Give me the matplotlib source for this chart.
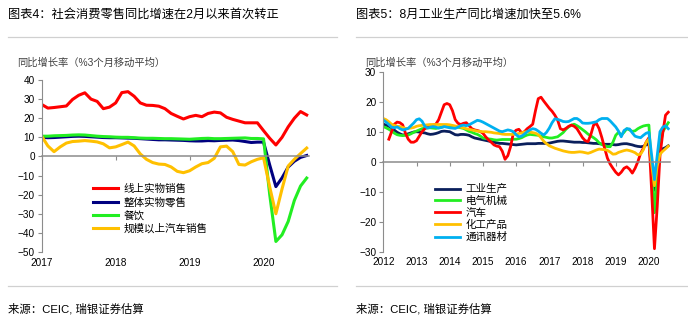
import numpy as np
import matplotlib
matplotlib.use('Agg')
import matplotlib.pyplot as plt
from matplotlib.lines import Line2D

plt.rcParams['font.family'] = ['Liberation Sans', 'Noto Sans CJK SC']

# ---- retail panel (3mma, yoy %), monthly from Jan 2017 ----
retail_start = 2017
retail_labels = ['线上实物销售', '整体实物零售', '餐饮', '规模以上汽车销售']
online_goods = [27.2, 25.3, 25.6, 26.0, 26.4, 29.8, 32.0, 33.3, 30.0, 28.8, 25.0, 25.8,
                28.0, 33.4, 33.9, 31.5, 28.0, 26.8, 26.7, 26.3, 25.0, 22.5, 21.0, 19.6,
                20.8, 21.5, 20.8, 22.5, 23.2, 22.8, 20.5, 19.4, 18.5, 17.6, 17.6, 17.6,
                13.5, 9.5, 6.0, 10.0, 15.5, 20.0, 23.5, 21.7]
total_goods = [10.0, 9.8, 9.9, 10.1, 10.3, 10.5, 10.6, 10.5, 10.3, 10.1, 9.9, 9.8,
               9.8, 9.7, 9.6, 9.5, 9.3, 9.1, 8.9, 8.7, 8.7, 8.6, 8.5, 8.4,
               8.2, 8.1, 8.1, 8.3, 8.2, 8.4, 8.5, 8.6, 8.3, 7.8, 7.3, 7.5,
               7.5, -4.5, -15.8, -11.2, -5.5, -2.5, -0.5, 0.5]
catering = [10.6, 10.6, 10.8, 10.9, 11.0, 11.2, 11.3, 11.2, 10.9, 10.6, 10.4, 10.3,
            10.1, 10.0, 10.0, 9.8, 9.6, 9.5, 9.5, 9.4, 9.3, 9.3, 9.2, 9.1,
            9.0, 9.2, 9.4, 9.5, 9.3, 9.3, 9.4, 9.5, 9.6, 9.7, 9.4, 9.4,
            9.2, -20.0, -44.5, -41.0, -34.0, -23.0, -15.5, -11.3]
auto_sales = [10.6, 5.5, 2.5, 5.0, 7.0, 7.8, 8.0, 8.3, 8.0, 7.6, 6.6, 4.5,
              5.0, 6.2, 7.5, 5.5, 1.3, -1.5, -3.2, -4.0, -4.2, -5.5, -7.8, -8.5,
              -7.5, -5.5, -3.8, -3.2, -1.0, 5.0, 5.4, 2.5, -4.2, -4.5, -2.8, -1.5,
              -0.7, -16.0, -30.0, -17.0, -5.0, -1.5, 1.5, 4.4]

# ---- industry panel (3mma, yoy %), monthly from Jan 2012 ----
ind_start = 2012
ind_labels = ['工业生产', '电气机械', '汽车', '化工产品', '通讯器材']
nan = np.nan
ip_total = [12.5, 12.2, 11.8, 11.3, 10.5, 9.8, 9.3, 8.9, 9.0, 9.3, 9.6, 9.9,
            10.0, 9.9, 9.7, 9.6, 9.3, 9.1, 9.2, 9.4, 9.7, 10.1, 10.2, 10.1,
            10.0, 9.5, 9.0, 8.9, 9.1, 9.1, 9.0, 8.8, 8.3, 7.9, 7.7, 7.5,
            7.3, 7.1, 6.9, 6.7, 6.5, 6.3, 6.1, 6.1, 6.0, 5.9, 5.8, 5.7,
            5.6, 5.7, 5.8, 5.9, 6.0, 6.0, 6.0, 6.0, 6.1, 6.1, 6.1, 6.1,
            6.2, 6.4, 6.6, 6.8, 6.9, 6.9, 6.8, 6.7, 6.6, 6.5, 6.5, 6.5,
            6.4, 6.4, 6.3, 6.2, 6.1, 6.1, 6.0, 5.9, 5.8, 5.8, 5.8, 5.7,
            5.6, 5.7, 5.9, 6.0, 6.0, 5.8, 5.6, 5.3, 5.1, 5.0, 5.1, 5.6,
            6.0, -3.0, -9.5, -2.0, 3.5, 4.3, 4.7, 5.3]
electrical = [11.7, 11.3, 10.8, 10.2, 9.5, 9.0, 8.8, 8.7, 8.8, 8.9, 9.3, 9.8,
              10.2, 10.6, 11.0, 11.2, 11.3, 11.3, 11.2, 11.1, 11.3, 11.5, 11.7, 11.7,
              11.7, 11.7, 11.6, 11.5, 11.3, 11.1, 10.6, 10.1, 9.8, 9.4, 9.1, 8.6,
              7.9, 7.7, 7.6, 7.5, 7.3, 7.2, 7.3, 7.4, 7.4, 7.4, 7.4, 7.5,
              7.5, 7.7, 8.0, 8.5, 8.9, 9.1, 9.0, 8.9, 8.8, 8.5, 8.3, 8.1,
              7.9, 7.9, 8.1, 8.3, 9.0, 9.7, 10.8, 11.6, 12.2, 12.5, 12.0, 11.4,
              10.7, 10.0, 9.2, 8.6, 8.0, 7.3, 6.3, 5.7, 5.4, 5.0, 5.0, 6.5,
              8.8, 9.8, 8.9, 9.8, 11.0, 10.6, 10.1, 10.3, 11.0, 11.5, 11.9, 12.1,
              12.2, -3.0, -17.0, -5.0, 5.0, 10.0, 11.5, 13.0]
autos = [nan, nan, 7.5, 10.0, 12.5, 13.2, 13.0, 12.3, 9.5, 7.5, 6.5, 6.5,
         7.0, 8.5, 10.0, 11.0, 11.5, 11.8, 12.2, 12.5, 14.0, 16.5, 19.0, 19.4,
         19.0, 17.0, 14.0, 12.8, 12.4, 12.8, 13.0, 12.0, 11.0, 10.6, 10.4, 10.1,
         9.5, 8.3, 7.3, 6.5, 5.6, 5.2, 5.0, 3.5, 0.8, 2.0, 5.0, 9.5,
         10.5, 10.8, 9.6, 10.0, 11.0, 11.7, 12.5, 17.0, 21.0, 21.5, 20.2, 19.0,
         17.8, 16.8, 15.5, 13.9, 11.0, 10.6, 11.1, 11.8, 12.2, 11.8, 11.0, 9.5,
         8.0, 7.0, 6.7, 9.0, 12.2, 12.8, 11.0, 8.0, 4.5, 1.2, -0.8, -2.2,
         -3.5, -4.4, -3.5, -2.2, -1.7, -2.5, -3.8, -2.2, 0.0, 2.8, 4.5, 6.5,
         8.0, -10.0, -29.0, -15.0, 2.0, 9.5, 15.5, 16.5]
chemicals = [14.4, 14.0, 13.3, 12.5, 12.1, 11.8, 11.7, 11.4, 11.1, 11.1, 11.2, 11.4,
             11.8, 12.0, 12.1, 12.2, 12.3, 12.4, 12.4, 12.4, 12.4, 12.4, 12.4, 12.4,
             12.3, 12.1, 11.9, 11.7, 11.5, 11.3, 11.0, 10.8, 10.6, 10.4, 10.2, 10.1,
             10.0, 10.0, 9.9, 9.8, 9.6, 9.5, 9.4, 9.2, 9.1, 9.1, 9.1, 9.1,
             9.2, 9.4, 9.6, 9.9, 10.0, 9.9, 9.7, 9.5, 9.0, 8.0, 6.8, 6.0,
             5.3, 4.9, 4.5, 4.2, 3.9, 3.6, 3.4, 3.2, 3.1, 3.1, 3.2, 3.3,
             3.2, 3.0, 2.8, 3.1, 3.5, 3.9, 4.2, 4.1, 4.0, 3.8, 3.2, 2.5,
             2.6, 3.1, 3.4, 3.7, 3.9, 3.7, 3.4, 3.0, 2.3, 2.5, 4.0, 6.5,
             7.5, -1.0, -8.0, -1.5, 2.5, 3.5, 4.3, 5.2]
telecom = [13.9, 13.2, 12.4, 11.5, 11.3, 11.6, 11.0, 10.6, 10.8, 11.1, 12.0, 12.9,
           14.0, 14.3, 13.5, 11.8, 11.2, 11.5, 11.7, 11.5, 11.2, 11.4, 11.7, 11.5,
           11.3, 11.2, 11.1, 11.5, 12.0, 12.2, 12.0, 12.3, 12.8, 13.3, 13.8, 13.6,
           13.2, 12.7, 12.2, 11.7, 11.2, 10.7, 10.2, 10.0, 10.3, 10.6, 10.4, 10.0,
           9.0, 8.3, 8.5, 9.2, 10.0, 10.6, 11.0, 10.8, 10.2, 9.5, 8.9, 9.8,
           11.2, 13.0, 14.3, 14.1, 13.8, 13.4, 13.3, 13.4, 13.9, 14.4, 14.4, 13.8,
           12.9, 12.8, 12.8, 12.9, 13.1, 13.3, 14.0, 14.4, 14.4, 14.4, 13.6, 12.6,
           11.6, 10.2, 8.3, 10.4, 11.0, 10.9, 9.6, 8.5, 8.2, 8.0, 8.8, 9.5,
           9.8, 2.0, -6.0, 2.0, 10.0, 11.5, 12.0, 11.0]

RED, NAVY, GREEN, GOLD, CYAN = '#FF0000', '#000080', '#22EE22', '#FFC000', '#00B0F0'
GRAY = '#8C8C8C'

W, H = 688, 325
fig = plt.figure(figsize=(W / 100, H / 100), dpi=100)


def px_axes(left, top, right, bottom):
    return fig.add_axes([left / W, 1 - bottom / H, (right - left) / W, (bottom - top) / H])


def style(ax, x0, x1, y0, y1, years):
    ax.set_xlim(x0, x1)
    ax.set_ylim(y0, y1)
    ax.patch.set_visible(False)
    for s in ['top', 'right']:
        ax.spines[s].set_visible(False)
    ax.spines['left'].set_color(GRAY)
    ax.spines['left'].set_linewidth(0.8)
    ax.spines['bottom'].set_position(('data', 0))
    ax.spines['bottom'].set_color(GRAY)
    ax.spines['bottom'].set_linewidth(1.1)
    ax.set_yticks(np.arange(y0, y1 + 1, 10))
    ax.tick_params(axis='y', direction='out', length=3, width=0.8, color=GRAY,
                   labelsize=7.2, pad=2)
    ax.set_xticks(years)
    ax.tick_params(axis='x', direction='out', length=3, width=0.8, color=GRAY,
                   labelbottom=False)
    # year labels sit under the plot, the ticks stay on the zero line
    sec = ax.secondary_xaxis(0.0)
    sec.set_xticks(years)
    sec.set_xticklabels([str(y) for y in years])
    sec.spines['bottom'].set_visible(False)
    sec.tick_params(length=0, pad=4, labelsize=7.2)


def header(x, text_title, x_end):
    fig.text(x / W, 1 - 15 / H, text_title, fontsize=8.8, ha='left', va='center')
    fig.add_artist(Line2D([x / W, x_end / W], [1 - 37 / H] * 2, color='#D0D0D0', lw=0.9))
    fig.text((x + 9) / W, 1 - 63 / H, '同比增长率（%3个月移动平均）', fontsize=7.4,
             color='#404040', ha='left', va='center')
    fig.add_artist(Line2D([x / W, x_end / W], [1 - 286 / H] * 2, color='#D0D0D0', lw=0.9))
    fig.text(x / W, 1 - 309 / H, '来源：CEIC, 瑞银证券估算', fontsize=8.2, ha='left', va='center')


header(8, '图表4：社会消费零售同比增速在2月以来首次转正', 337)
header(356, '图表5：8月工业生产同比增速加快至5.6%', 688)

# left: retail sales
ax1 = px_axes(41.7, 80, 309.4, 252)
xr = retail_start + np.arange(len(online_goods)) / 12
for ys, c, lab in zip([online_goods, total_goods, catering, auto_sales],
                      [RED, NAVY, GREEN, GOLD], retail_labels):
    ax1.plot(xr, ys, color=c, lw=2.2, label=lab, solid_joinstyle='round')
style(ax1, 2017, 2020.62, -50, 40, [2017, 2018, 2019, 2020])
ax1.legend(loc='upper left', bbox_to_anchor=(0.19, 0.395), frameon=False, fontsize=7.6,
           handlelength=2.4, handletextpad=0.5, labelspacing=0.28,
           borderpad=0, borderaxespad=0)

# right: industrial production
ax2 = px_axes(383.3, 71.7, 669.5, 251.7)
xi = ind_start + np.arange(len(ip_total)) / 12
for ys, c, lab in zip([ip_total, electrical, autos, chemicals, telecom],
                      ['#0A1F5C', GREEN, RED, GOLD, CYAN], ind_labels):
    ax2.plot(xi, ys, color=c, lw=2.0, label=lab, solid_joinstyle='round')
style(ax2, 2012, 2020.62, -30, 30, list(range(2012, 2021)))
ax2.legend(loc='upper left', bbox_to_anchor=(0.18, 0.375), frameon=False, fontsize=7.6,
           handlelength=2.4, handletextpad=0.5, labelspacing=0.18,
           borderpad=0, borderaxespad=0)

fig.savefig('out.png', dpi=100)
